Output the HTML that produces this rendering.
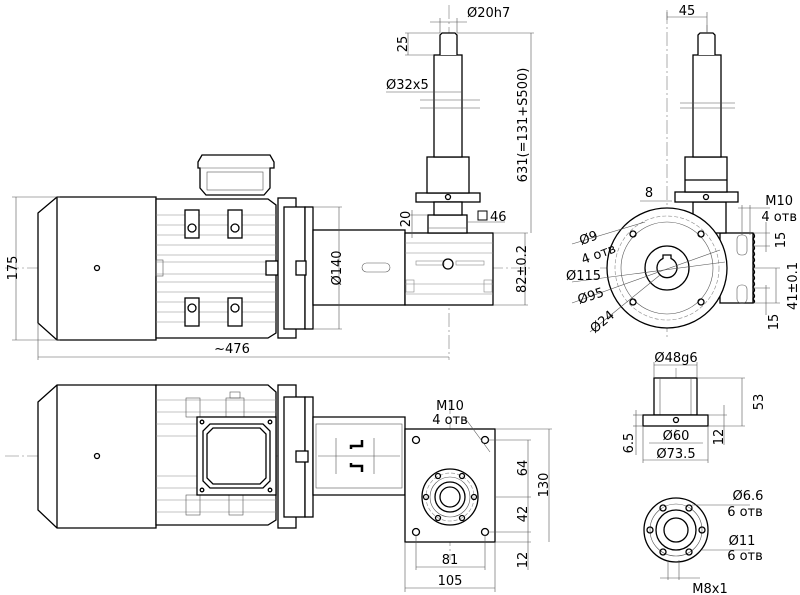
<!DOCTYPE html>
<html><head><meta charset="utf-8"><style>
html,body{margin:0;padding:0;background:#fff;}
svg{display:block;}
text{font-family:"DejaVu Sans","Liberation Sans",sans-serif;font-size:13px;fill:#000;}
.k{fill:none;stroke:#000;stroke-width:1.3;}
.w{fill:#fff;stroke:#000;stroke-width:1.3;}
.t{fill:none;stroke:#555;stroke-width:0.6;}
.g{fill:none;stroke:#888;stroke-width:0.6;}
.c{fill:none;stroke:#777;stroke-width:0.6;stroke-dasharray:14 3 2 3;}
.d{fill:none;stroke:#888;stroke-width:0.6;stroke-dasharray:4 2;}
</style></head><body>
<svg width="800" height="595" viewBox="0 0 800 595" xmlns="http://www.w3.org/2000/svg">
<!-- ============ TOP VIEW (front) ============ -->
<line class="c" x1="5" y1="268" x2="530" y2="268"/>
<line class="c" x1="449" y1="5" x2="449" y2="360"/>
<polygon class="w" points="38,213 57,197 156,197 156,340 57,340 38,323"/>
<line class="k" x1="57" y1="197" x2="57" y2="340"/>
<circle class="k" cx="97" cy="268" r="2.5"/>
<path class="w" d="M156,199 H268 L276,205 V333 L268,338 H156 Z"/>
<g class="g">
<line x1="156" y1="215" x2="276" y2="215"/><line x1="156" y1="225" x2="276" y2="225"/>
<line x1="156" y1="235" x2="276" y2="235"/><line x1="156" y1="245" x2="276" y2="245"/>
<line x1="156" y1="255" x2="276" y2="255"/><line x1="156" y1="262" x2="276" y2="262"/>
<line x1="156" y1="274" x2="276" y2="274"/><line x1="156" y1="282" x2="276" y2="282"/>
<line x1="156" y1="292" x2="276" y2="292"/><line x1="156" y1="302" x2="276" y2="302"/>
<line x1="156" y1="312" x2="276" y2="312"/><line x1="156" y1="322" x2="276" y2="322"/>
</g>
<rect class="w" x="185" y="210" width="14" height="28"/><rect class="w" x="228" y="210" width="14" height="28"/>
<rect class="w" x="185" y="298" width="14" height="28"/><rect class="w" x="228" y="298" width="14" height="28"/>
<circle class="k" cx="192" cy="228" r="4"/><circle class="k" cx="235" cy="228" r="4"/>
<circle class="k" cx="192" cy="308" r="4"/><circle class="k" cx="235" cy="308" r="4"/>
<rect class="t" x="156" y="260" width="7" height="16"/>
<rect class="w" x="266" y="261" width="12" height="14"/>
<path class="w" d="M198,162 L202,155 H270 L274,162 V168 H270 V188 L264,195 H206 L200,188 V168 H198 Z"/>
<line class="t" x1="200" y1="168" x2="270" y2="168"/>
<rect class="t" x="207" y="172" width="56" height="18"/>
<rect class="w" x="278" y="198" width="18" height="140"/>
<rect class="w" x="284" y="207" width="21" height="122"/>
<rect class="w" x="305" y="207" width="8" height="122"/>
<rect class="w" x="296" y="261" width="10" height="14"/>
<rect class="w" x="313" y="230" width="92" height="75"/>
<rect class="t" x="362" y="263" width="28" height="9" rx="4.5"/>
<rect class="w" x="405" y="233" width="88" height="72"/>
<g class="g">
<line x1="405" y1="243" x2="493" y2="243"/><line x1="405" y1="253" x2="493" y2="253"/>
<line x1="405" y1="284" x2="493" y2="284"/><line x1="405" y1="294" x2="493" y2="294"/>
<rect x="416" y="261" width="28" height="4"/><rect x="456" y="261" width="28" height="4"/>
<rect x="406" y="280" width="8" height="12"/><rect x="484" y="280" width="8" height="12"/>
</g>
<circle class="k" cx="448" cy="264" r="5"/>
<rect class="w" x="428" y="215" width="39" height="18"/>
<rect class="w" x="416" y="193" width="64" height="9"/>
<circle class="k" cx="448" cy="197" r="2.5"/>
<rect class="w" x="427" y="157" width="42" height="36"/>
<rect class="w" x="434" y="55" width="28" height="102"/>
<rect class="w" x="434" y="202" width="28" height="13"/>
<path class="w" d="M440,55 V35 L442,33 H455 L457,35 V55"/>
<line class="t" x1="420" y1="100" x2="480" y2="100"/><line class="t" x1="420" y1="108" x2="480" y2="108"/>
<g class="t">
<line x1="16" y1="197" x2="16" y2="340"/><line x1="12" y1="197" x2="60" y2="197"/><line x1="12" y1="340" x2="60" y2="340"/>
<line x1="38" y1="357" x2="449" y2="357"/><line x1="38" y1="323" x2="38" y2="360"/>
<line x1="339" y1="207" x2="339" y2="329"/><line x1="313" y1="207" x2="342" y2="207"/><line x1="313" y1="329" x2="342" y2="329"/>
<line x1="525" y1="233" x2="525" y2="305"/><line x1="493" y1="233" x2="528" y2="233"/><line x1="493" y1="305" x2="528" y2="305"/>
<line x1="531" y1="33" x2="531" y2="233"/><line x1="457" y1="33" x2="534" y2="33"/>
<line x1="410" y1="215" x2="428" y2="215"/><line x1="412" y1="210" x2="412" y2="238"/>
<line x1="428" y1="228" x2="467" y2="228"/>
<line x1="430" y1="22" x2="467" y2="22"/><line x1="440" y1="18" x2="440" y2="33"/><line x1="457" y1="18" x2="457" y2="33"/>
<line x1="405" y1="33" x2="440" y2="33"/><line x1="405" y1="55" x2="434" y2="55"/><line x1="408" y1="33" x2="408" y2="55"/>
<line x1="386" y1="92" x2="462" y2="92"/>
<line x1="467" y1="222" x2="505" y2="222"/>
</g>
<text transform="translate(12,268) rotate(-90)" text-anchor="middle" dy="5">175</text>
<text x="232" y="353" text-anchor="middle">~476</text>
<text transform="translate(336,268) rotate(-90)" text-anchor="middle" dy="5">Ø140</text>
<text transform="translate(521,269) rotate(-90)" text-anchor="middle" dy="5">82±0.2</text>
<text transform="translate(522,125) rotate(-90)" text-anchor="middle" dy="5">631(=131+S500)</text>
<text transform="translate(405,219) rotate(-90)" text-anchor="middle" dy="5">20</text>
<text transform="translate(402,44) rotate(-90)" text-anchor="middle" dy="5">25</text>
<text x="467" y="17">Ø20h7</text>
<text x="386" y="89">Ø32x5</text>
<rect class="k" x="478" y="211" width="9" height="9" style="stroke-width:1"/>
<text x="490" y="221">46</text>

<!-- ============ BOTTOM VIEW (plan) ============ -->
<line class="c" x1="5" y1="456" x2="405" y2="456"/>
<line class="c" x1="450" y1="400" x2="450" y2="560"/>
<polygon class="w" points="38,402 57,385 156,385 156,528 57,528 38,510"/>
<line class="k" x1="57" y1="385" x2="57" y2="528"/>
<circle class="k" cx="97" cy="456" r="2.5"/>
<path class="w" d="M156,385 H268 L276,392 V520 L268,525 H156 Z"/>
<g class="g">
<line x1="156" y1="400" x2="276" y2="400"/><line x1="156" y1="412" x2="276" y2="412"/>
<line x1="156" y1="424" x2="276" y2="424"/><line x1="156" y1="436" x2="276" y2="436"/>
<line x1="156" y1="476" x2="276" y2="476"/><line x1="156" y1="488" x2="276" y2="488"/>
<line x1="156" y1="500" x2="276" y2="500"/><line x1="156" y1="512" x2="276" y2="512"/>
</g>
<rect class="t" x="186" y="398" width="14" height="19"/>
<rect class="t" x="186" y="495" width="14" height="20"/>
<rect class="t" x="229" y="495" width="14" height="20"/>
<rect class="t" x="226" y="398" width="18" height="19"/>
<rect class="t" x="230" y="392" width="10" height="6"/>
<rect class="w" x="197" y="417" width="79" height="78"/>
<path class="k" d="M210,424 H263 L270,431 V481 L263,488 H210 L203,481 V431 Z"/>
<path class="k" d="M213,428 H260 L266,434 V478 L260,484 H213 L207,478 V434 Z"/>
<circle class="k" cx="202" cy="422" r="1.8"/><circle class="k" cx="270" cy="422" r="1.8"/>
<circle class="k" cx="202" cy="490" r="1.8"/><circle class="k" cx="270" cy="490" r="1.8"/>
<rect class="w" x="278" y="385" width="18" height="143"/>
<rect class="w" x="284" y="397" width="21" height="120"/>
<rect class="w" x="305" y="397" width="8" height="120"/>
<rect class="w" x="296" y="451" width="12" height="11"/>
<path class="w" d="M313,417 H405 V495 H313 Z"/>
<rect class="t" x="316" y="424" width="86" height="64"/>
<path class="k" d="M351,449 V446 H362 V440 M351,463 V466 H362 V472" style="stroke-width:2.5"/>
<line class="t" x1="336" y1="438" x2="336" y2="474"/><line class="t" x1="374" y1="438" x2="374" y2="474"/>
<line class="t" x1="318" y1="456" x2="400" y2="456"/>
<rect class="w" x="405" y="429" width="90" height="113"/>
<circle class="k" cx="450" cy="497" r="28"/>
<circle class="d" cx="450" cy="497" r="24"/>
<circle class="t" cx="450" cy="497" r="20"/>
<circle class="k" cx="450" cy="497" r="15"/>
<circle class="k" cx="450" cy="497" r="10"/>
<g class="k">
<circle cx="426" cy="497" r="2.5"/><circle cx="474" cy="497" r="2.5"/>
<circle cx="438" cy="476" r="2.5"/><circle cx="462" cy="476" r="2.5"/>
<circle cx="438" cy="518" r="2.5"/><circle cx="462" cy="518" r="2.5"/>
<circle cx="416" cy="440" r="3.5"/><circle cx="485" cy="440" r="3.5"/>
<circle cx="416" cy="532" r="3.5"/><circle cx="485" cy="532" r="3.5"/>
</g>
<g class="t">
<line x1="488" y1="440" x2="531" y2="440"/><line x1="495" y1="497" x2="531" y2="497"/>
<line x1="488" y1="532" x2="531" y2="532"/><line x1="495" y1="542" x2="531" y2="542"/>
<line x1="495" y1="429" x2="552" y2="429"/>
<line x1="528" y1="440" x2="528" y2="570"/><line x1="549" y1="429" x2="549" y2="542"/>
<line x1="416" y1="535" x2="416" y2="570"/><line x1="485" y1="535" x2="485" y2="570"/>
<line x1="416" y1="567" x2="485" y2="567"/>
<line x1="405" y1="542" x2="405" y2="592"/><line x1="495" y1="542" x2="495" y2="592"/>
<line x1="405" y1="588" x2="495" y2="588"/>
<line x1="465" y1="418" x2="490" y2="452"/>
</g>
<text x="450" y="410" text-anchor="middle">M10</text>
<text x="450" y="424" text-anchor="middle">4 отв</text>
<text transform="translate(522,468) rotate(-90)" text-anchor="middle" dy="5">64</text>
<text transform="translate(522,514) rotate(-90)" text-anchor="middle" dy="5">42</text>
<text transform="translate(522,560) rotate(-90)" text-anchor="middle" dy="5">12</text>
<text transform="translate(543,485) rotate(-90)" text-anchor="middle" dy="5">130</text>
<text x="450" y="564" text-anchor="middle">81</text>
<text x="450" y="585" text-anchor="middle">105</text>

<!-- ============ SIDE VIEW ============ -->
<line class="c" x1="667" y1="10" x2="667" y2="340"/>
<line class="c" x1="600" y1="268" x2="735" y2="268"/>
<line class="c" x1="707" y1="25" x2="707" y2="240"/>
<rect class="w" x="720" y="233" width="33" height="70"/>
<path class="k" d="M753,233 q3,3 0,6 q3,3 0,6 q3,3 0,6 q3,3 0,6 q3,3 0,6 q3,3 0,6 q3,3 0,6 q3,3 0,6 q3,3 0,6 q3,3 0,6 q3,3 0,6 q3,3 0,4"/>
<rect class="t" x="737" y="235" width="10" height="20" rx="4"/>
<rect class="t" x="737" y="285" width="10" height="18" rx="4"/>
<rect class="w" x="693" y="202" width="33" height="31"/>
<rect class="w" x="675" y="192" width="63" height="10"/>
<circle class="k" cx="706" cy="197" r="2.5"/>
<rect class="w" x="685" y="157" width="42" height="35"/>
<line class="k" x1="685" y1="180" x2="727" y2="180"/>
<rect class="w" x="693" y="55" width="28" height="102"/>
<path class="w" d="M698,55 V35 L700,33 H713 L715,35 V55"/>
<line class="t" x1="680" y1="103" x2="735" y2="103"/><line class="t" x1="680" y1="108" x2="735" y2="108"/>
<circle class="w" cx="667" cy="268" r="60"/>
<circle class="d" cx="667" cy="268" r="52"/>
<circle class="t" cx="667" cy="268" r="46"/>
<circle class="k" cx="667" cy="268" r="22"/>
<path class="k" d="M663,258.5 A10,10 0 1 0 671,258.5 V255 H663 Z"/>
<g class="k">
<circle cx="633" cy="234" r="3"/><circle cx="701" cy="234" r="3"/>
<circle cx="633" cy="302" r="3"/><circle cx="701" cy="302" r="3"/>
</g>
<g class="t">
<line x1="667" y1="12" x2="667" y2="20"/><line x1="707" y1="12" x2="707" y2="33"/>
<line x1="667" y1="17" x2="707" y2="17"/>
<line x1="640" y1="201" x2="672" y2="201"/>
<line x1="572" y1="244" x2="645" y2="222"/>
<line x1="572" y1="282" x2="725" y2="262"/>
<line x1="572" y1="303" x2="720" y2="250"/>
<line x1="590" y1="332" x2="660" y2="275"/>
<line x1="738" y1="208" x2="770" y2="208"/><line x1="742" y1="205" x2="742" y2="235"/><line x1="750" y1="205" x2="750" y2="235"/>
<line x1="753" y1="233" x2="770" y2="233"/><line x1="753" y1="246" x2="770" y2="246"/>
<line x1="766" y1="222" x2="766" y2="252"/>
<line x1="753" y1="268" x2="780" y2="268"/><line x1="753" y1="303" x2="780" y2="303"/>
<line x1="776" y1="268" x2="776" y2="303"/>
<line x1="766" y1="285" x2="766" y2="315"/><line x1="753" y1="288" x2="770" y2="288"/>
</g>
<text x="687" y="15" text-anchor="middle">45</text>
<text x="649" y="197" text-anchor="middle">8</text>
<text x="793" y="205" text-anchor="end">M10</text>
<text x="797" y="221" text-anchor="end">4 отв</text>
<text transform="translate(780,240) rotate(-90)" text-anchor="middle" dy="5">15</text>
<text transform="translate(792,286) rotate(-90)" text-anchor="middle" dy="5">41±0.1</text>
<text transform="translate(773,322) rotate(-90)" text-anchor="middle" dy="5">15</text>
<text transform="translate(590,242) rotate(-20)" text-anchor="middle">Ø9</text>
<text transform="translate(600,258) rotate(-20)" text-anchor="middle">4 отв</text>
<text x="566" y="280">Ø115</text>
<text transform="translate(592,300) rotate(-18)" text-anchor="middle">Ø95</text>
<text transform="translate(605,325) rotate(-40)" text-anchor="middle">Ø24</text>

<!-- ============ NUT VIEWS ============ -->
<line class="c" x1="676" y1="368" x2="676" y2="440"/>
<rect class="w" x="654" y="378" width="43" height="37"/>
<line class="t" x1="660" y1="378" x2="660" y2="415"/><line class="t" x1="691" y1="378" x2="691" y2="415"/>
<rect class="w" x="643" y="415" width="65" height="11"/>
<circle class="k" cx="676" cy="420" r="2.5"/>
<g class="t">
<line x1="654" y1="365" x2="697" y2="365"/><line x1="654" y1="362" x2="654" y2="378"/><line x1="697" y1="362" x2="697" y2="378"/>
<line x1="697" y1="378" x2="745" y2="378"/><line x1="708" y1="426" x2="745" y2="426"/><line x1="742" y1="378" x2="742" y2="426"/>
<line x1="708" y1="415" x2="727" y2="415"/><line x1="724" y1="405" x2="724" y2="445"/>
<line x1="649" y1="443" x2="703" y2="443"/><line x1="643" y1="460" x2="708" y2="460"/>
<line x1="643" y1="426" x2="643" y2="463"/><line x1="708" y1="426" x2="708" y2="463"/>
<line x1="633" y1="415" x2="643" y2="415"/><line x1="633" y1="426" x2="643" y2="426"/><line x1="636" y1="410" x2="636" y2="455"/>
</g>
<text x="676" y="362" text-anchor="middle">Ø48g6</text>
<text x="676" y="440" text-anchor="middle">Ø60</text>
<text x="676" y="458" text-anchor="middle">Ø73.5</text>
<text transform="translate(758,402) rotate(-90)" text-anchor="middle" dy="5">53</text>
<text transform="translate(718,437) rotate(-90)" text-anchor="middle" dy="5">12</text>
<text transform="translate(628,443) rotate(-90)" text-anchor="middle" dy="5">6.5</text>
<circle class="w" cx="676" cy="530" r="32"/>
<circle class="t" cx="676" cy="530" r="26"/>
<circle class="k" cx="676" cy="530" r="20"/>
<circle class="k" cx="676" cy="530" r="12"/>
<g class="k">
<circle cx="650" cy="530" r="3"/><circle cx="702" cy="530" r="3"/>
<circle cx="663" cy="508" r="3"/><circle cx="689" cy="508" r="3"/>
<circle cx="663" cy="552" r="3"/><circle cx="689" cy="552" r="3"/>
</g>
<g class="t">
<line x1="692" y1="505" x2="750" y2="505"/><line x1="702" y1="550" x2="750" y2="550"/>
<line x1="668" y1="560" x2="668" y2="580"/><line x1="679" y1="560" x2="679" y2="580"/>
<line x1="660" y1="578" x2="700" y2="578"/>
</g>
<text x="748" y="500" text-anchor="middle">Ø6.6</text>
<text x="745" y="516" text-anchor="middle">6 отв</text>
<text x="742" y="545" text-anchor="middle">Ø11</text>
<text x="745" y="560" text-anchor="middle">6 отв</text>
<text x="710" y="593" text-anchor="middle">M8x1</text>
</svg>
</body></html>
